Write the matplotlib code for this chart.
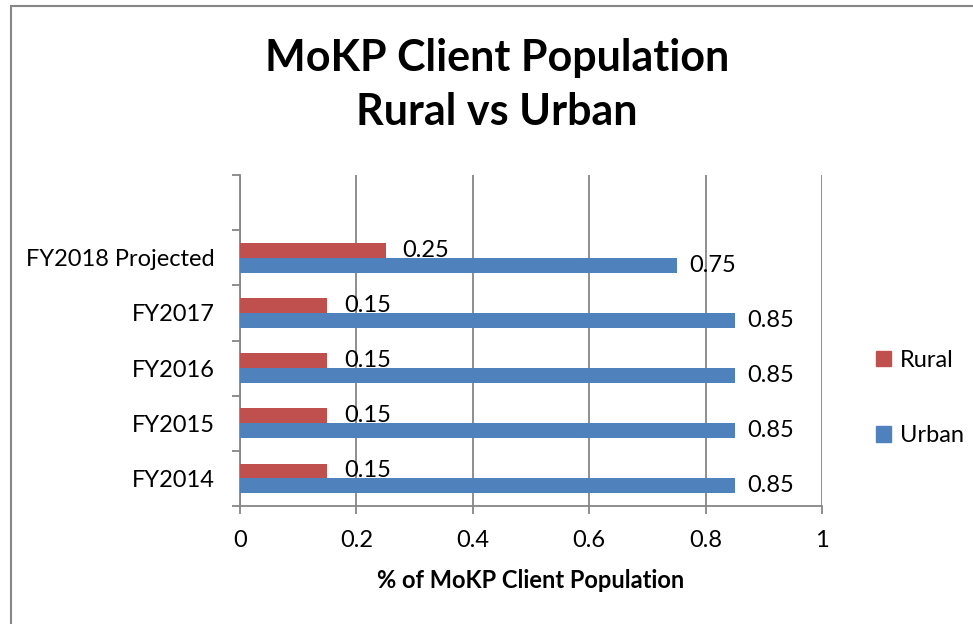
import numpy as np
import matplotlib
matplotlib.use("Agg")
import matplotlib.pyplot as plt
from matplotlib.patches import Rectangle, Patch

# data
categories = ["FY2014", "FY2015", "FY2016", "FY2017", "FY2018 Projected"]
rural = [0.15, 0.15, 0.15, 0.15, 0.25]
urban = [0.85, 0.85, 0.85, 0.85, 0.75]
xticks = [0, 0.2, 0.4, 0.6, 0.8, 1]

red = "#C0504D"
blue = "#4F81BD"
gray = "#868686"

plt.rcParams['font.family'] = ['Lato', 'DejaVu Sans']

fig = plt.figure(figsize=(9.73, 6.24), dpi=100)
ax = fig.add_axes([240/973, 118/624, 582/973, 331/624])

y = np.arange(len(categories))
h = 0.27
ax.barh(y - h/2, urban, height=h, color=blue, zorder=3)
ax.barh(y + h/2, rural, height=h, color=red, zorder=3)

for yi, v in zip(y, rural):
    ax.annotate("%g" % v, (v, yi + h/2), xytext=(12, 0), textcoords="offset points",
                va="center", ha="left", fontsize=17, zorder=4)
for yi, v in zip(y, urban):
    ax.annotate("%g" % v, (v, yi - h/2), xytext=(9, 0), textcoords="offset points",
                va="center", ha="left", fontsize=17, zorder=4)

ax.set_xlim(0, 1)
ax.set_ylim(-0.5, 5.5)
ax.set_xticks(xticks)
ax.set_xticklabels(["%g" % t for t in xticks])
ax.set_yticks(np.arange(-0.5, 6, 1))
ax.set_yticklabels([])
ax.set_yticks(y, minor=True)
ax.set_yticklabels(categories, minor=True)
ax.tick_params(axis="y", which="major", length=6, color=gray, width=1.3, direction="out")
ax.tick_params(axis="y", which="minor", length=0, pad=18, labelsize=17)
ax.tick_params(axis="x", length=6, color=gray, width=1.3, pad=11, labelsize=17)

ax.grid(axis="x", color=gray, lw=1.3, zorder=0)
for s in ["top", "right"]:
    ax.spines[s].set_visible(False)
for s in ["left", "bottom"]:
    ax.spines[s].set_color(gray)
    ax.spines[s].set_linewidth(1.3)

ax.set_xlabel("% of MoKP Client Population", fontsize=17, fontweight="bold", labelpad=13)

fig.text(497/973, 1 - 85/624, "MoKP Client Population\nRural vs Urban", ha="center", va="center",
         fontsize=31, fontweight="bold", linespacing=1.4)

handles = [Patch(color=red, label="Rural"), Patch(color=blue, label="Urban")]
fig.legend(handles=handles, loc="center left", bbox_to_anchor=(876/973, 1 - 398/624),
           frameon=False, fontsize=17, labelspacing=2.3, handlelength=0.65, handleheight=0.65,
           handletextpad=0.35, borderpad=0, borderaxespad=0)

fig.add_artist(Rectangle((11/973, -0.1), 2, 1 - 6/624 + 0.1, transform=fig.transFigure,
                         fill=False, ec=gray, lw=1.5))

fig.savefig("out.png", dpi=100)
